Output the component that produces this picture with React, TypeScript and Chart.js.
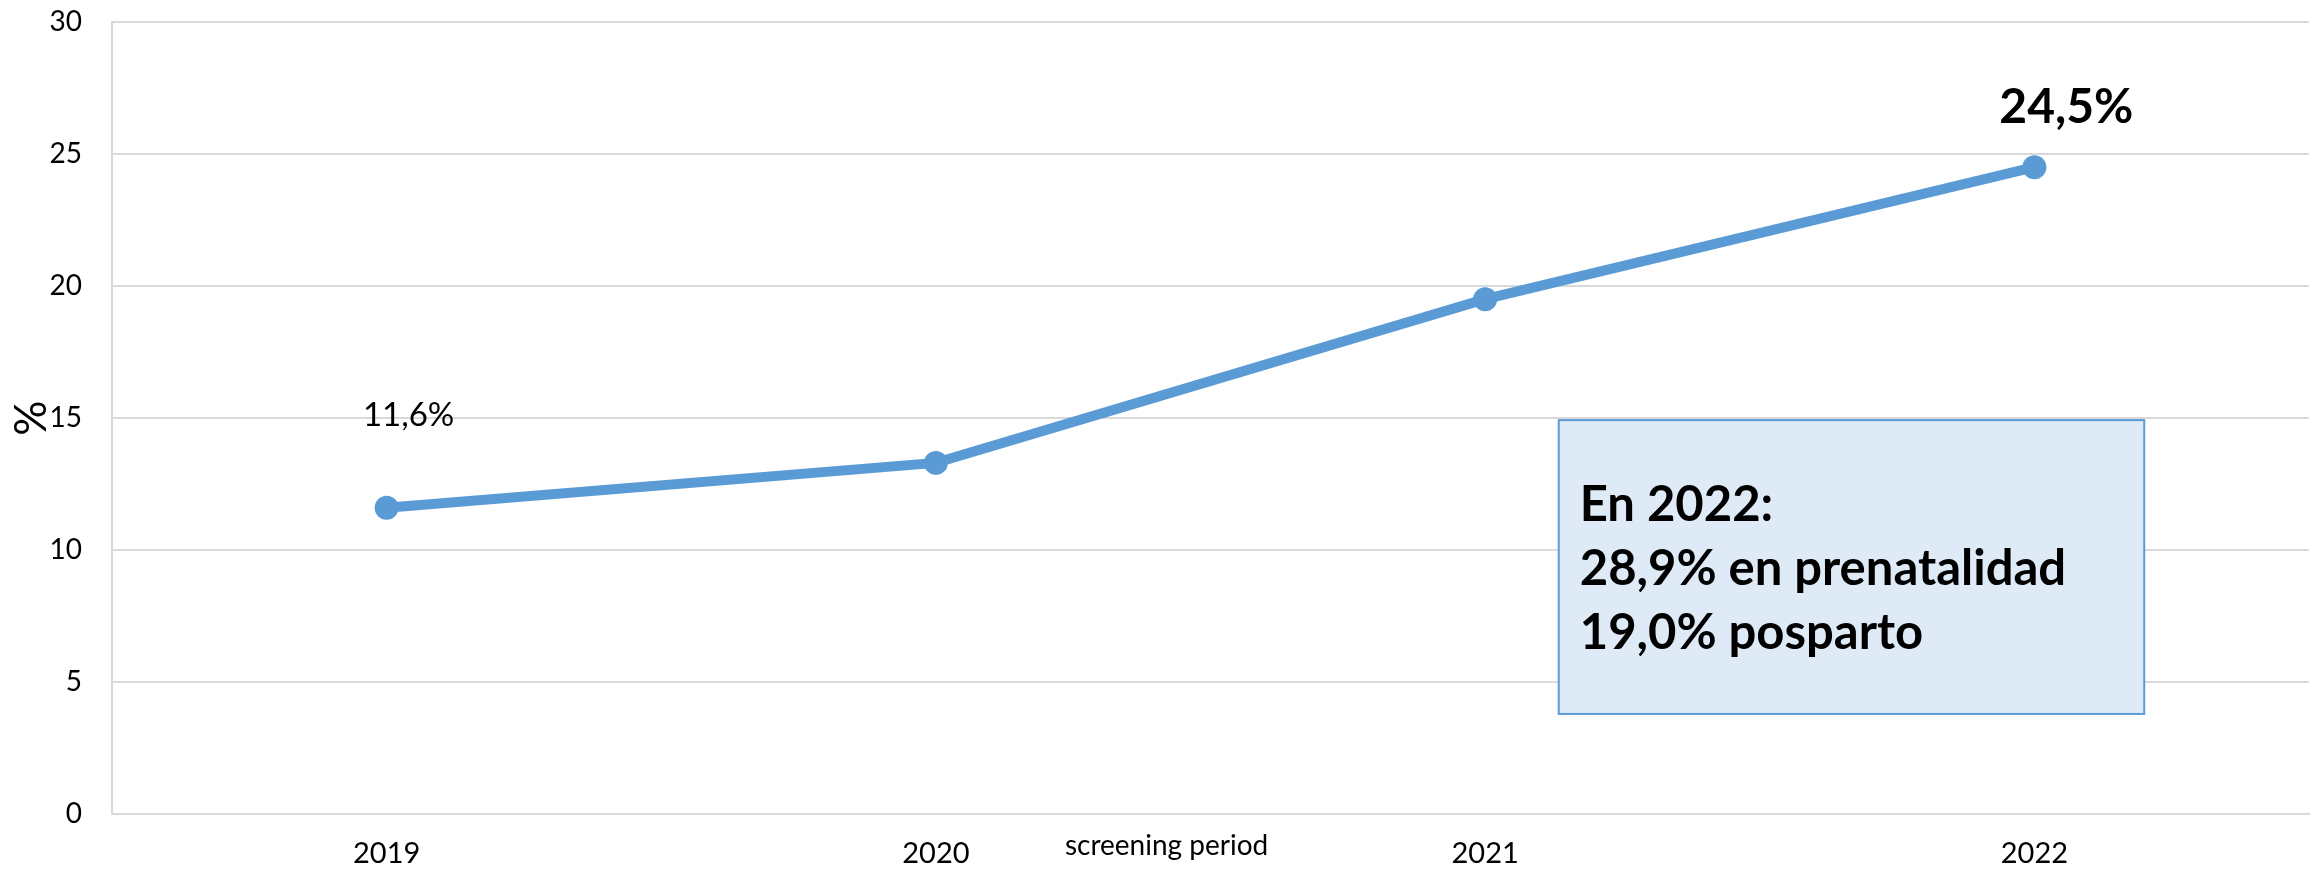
import React, { useEffect, useRef } from "react";
import { Chart, registerables } from "chart.js";

Chart.register(...registerables);

// Screening results by year
const years = ["2019", "2020", "2021", "2022"];
const positiveRate = [11.6, 13.3, 19.5, 24.5];

// Value labels shown next to selected points
const labelledIndexes = [0, 3];
const labelTexts = ["11,6%", "24,5%"];

// Note box content
const noteLines = ["En 2022:", "28,9% en prenatalidad", "19,0% posparto"];

const yTicks = [0, 5, 10, 15, 20, 25, 30];

const FONT = "Lato, 'Open Sans', sans-serif";
const BLUE = "#5B9BD5";
const GRID = "#d9d9d9";

const overlayPlugin = {
  id: "overlay",
  afterDatasetsDraw(chart: any) {
    const { ctx, chartArea, scales } = chart;
    const x = scales.x;
    const y = scales.y;
    const meta = chart.getDatasetMeta(0);

    ctx.save();

    // Point value labels
    const styles = [
      { font: `400 33px ${FONT}`, dx: 22, dy: -92 },
      { font: `700 48px ${FONT}`, dx: 32, dy: -60 },
    ];
    labelledIndexes.forEach((idx, i) => {
      const pt = meta.data[idx];
      const s = styles[i];
      ctx.font = s.font;
      ctx.fillStyle = "#000";
      ctx.textAlign = "center";
      ctx.textBaseline = "middle";
      ctx.fillText(labelTexts[i], pt.x + s.dx, pt.y + s.dy);
    });

    // Note box
    const left = x.getPixelForValue(2.134);
    const right = x.getPixelForValue(3.2);
    const top = y.getPixelForValue(14.92);
    const bottom = y.getPixelForValue(3.79);
    ctx.fillStyle = "#DEEBF7";
    ctx.fillRect(left, top, right - left, bottom - top);
    ctx.strokeStyle = BLUE;
    ctx.lineWidth = 2;
    ctx.strokeRect(left, top, right - left, bottom - top);

    ctx.font = `700 49px ${FONT}`;
    ctx.fillStyle = "#000";
    ctx.textAlign = "left";
    ctx.textBaseline = "alphabetic";
    noteLines.forEach((line, i) => {
      ctx.fillText(line, left + 21, top + 101 + i * 64);
    });

    // Axis caption under the plot
    ctx.font = `400 28px ${FONT}`;
    ctx.textAlign = "center";
    ctx.textBaseline = "middle";
    ctx.fillText("screening period", x.getPixelForValue(1.42), chartArea.bottom + 32);

    ctx.restore();
  },
};

export default function App() {
  const canvasRef = useRef<HTMLCanvasElement | null>(null);

  useEffect(() => {
    document.body.style.margin = "0";
    const canvas = canvasRef.current;
    if (!canvas) return;

    const chart = new Chart(canvas, {
      type: "line",
      data: {
        labels: years,
        datasets: [
          {
            data: positiveRate,
            borderColor: BLUE,
            backgroundColor: BLUE,
            borderWidth: 10,
            pointRadius: 12,
            pointBorderWidth: 0,
            pointBackgroundColor: BLUE,
            tension: 0,
            fill: false,
          },
        ],
      },
      options: {
        responsive: false,
        animation: false,
        devicePixelRatio: 1,
        layout: { padding: { top: 22, right: 7, left: 0, bottom: 0 } },
        plugins: {
          legend: { display: false },
          tooltip: { enabled: false },
        },
        scales: {
          x: {
            offset: true,
            grid: { display: false, drawTicks: false },
            border: { display: true, color: GRID, width: 2 },
            ticks: {
              color: "#000",
              padding: 22,
              font: { family: FONT, size: 29 },
            },
            afterFit: (scale: any) => {
              scale.height = 55;
            },
          },
          y: {
            min: 0,
            max: 30,
            afterBuildTicks: (scale: any) => {
              scale.ticks = yTicks.map((v) => ({ value: v }));
            },
            grid: { color: GRID, lineWidth: 2, drawTicks: false },
            border: { display: true, color: GRID, width: 2 },
            ticks: {
              color: "#000",
              padding: 30,
              font: { family: FONT, size: 28 },
            },
            title: {
              display: true,
              text: "%",
              color: "#000",
              font: { family: FONT, size: 44 },
              padding: { top: 5, bottom: 0 },
            },
            afterFit: (scale: any) => {
              scale.width = 112;
              scale.paddingTop = 0;
              scale.paddingBottom = 0;
            },
          },
        },
      },
      plugins: [overlayPlugin],
    });

    return () => chart.destroy();
  }, []);

  return (
    <div style={{ width: 2321, height: 869, background: "#fff" }}>
      <canvas ref={canvasRef} width={2321} height={869} style={{ display: "block" }} />
    </div>
  );
}
